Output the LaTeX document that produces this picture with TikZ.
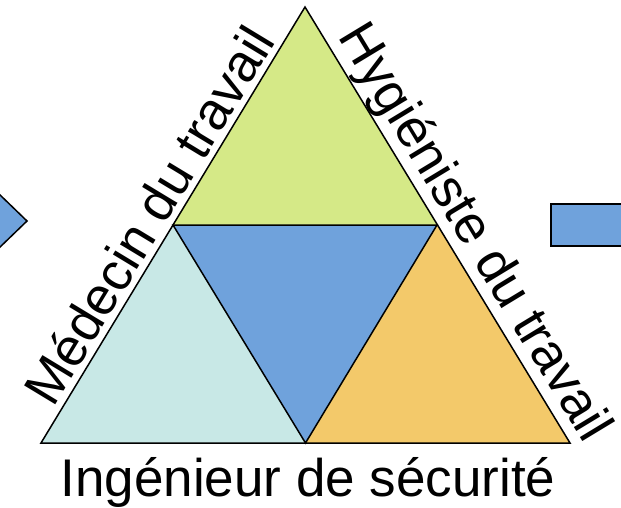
\documentclass[tikz,border=0pt]{standalone}
\usepackage{fontspec}
\setmainfont{Liberation Sans}
\definecolor{cgreen}{RGB}{213,233,135}
\definecolor{ccyan}{RGB}{200,232,230}
\definecolor{cblue}{RGB}{111,162,220}
\definecolor{corange}{RGB}{243,201,106}
\begin{document}
\begin{tikzpicture}[x=1pt,y=-1pt,
  edge/.style={draw=black,line width=1.5pt,line join=miter},
  lbl/.style={font=\fontsize{53}{60}\selectfont, inner sep=0pt, anchor=base}]
\useasboundingbox (0,0) rectangle (621,508);
\clip (0,0) rectangle (621,508);
\coordinate (T) at (305,7);
\coordinate (BL) at (41,443);
\coordinate (BR) at (570,443);
\coordinate (ML) at (173,225);
\coordinate (MR) at (437,225);
\coordinate (MB) at (305.5,443);
\fill[cgreen] (T) -- (ML) -- (MR) -- cycle;
\fill[ccyan] (ML) -- (BL) -- (MB) -- cycle;
\fill[cblue] (ML) -- (MR) -- (MB) -- cycle;
\fill[corange] (MR) -- (MB) -- (BR) -- cycle;
\draw[edge] (T) -- (BL) -- (BR) -- cycle;
\draw[edge] (ML) -- (MR) -- (MB) -- cycle;
% side shapes
\coordinate (A1) at (-2,193);
\coordinate (A2) at (27,221);
\coordinate (A3) at (-2,249);
\filldraw[fill=cblue, edge] (A1) -- (A2) -- (A3);
\coordinate (R1) at (551,204);
\coordinate (R2) at (630,246);
\filldraw[fill=cblue, draw=black, line width=2pt] (R1) rectangle (R2);
% labels
\node[lbl, rotate=58.8] (med) at (165,225) {Médecin du travail};
\node[lbl, rotate=-58.8] (hyg) at (461,241) {Hygiéniste du travail};
\node[lbl] (ing) at (308,496) {Ingénieur de sécurité};
\end{tikzpicture}
\end{document}
